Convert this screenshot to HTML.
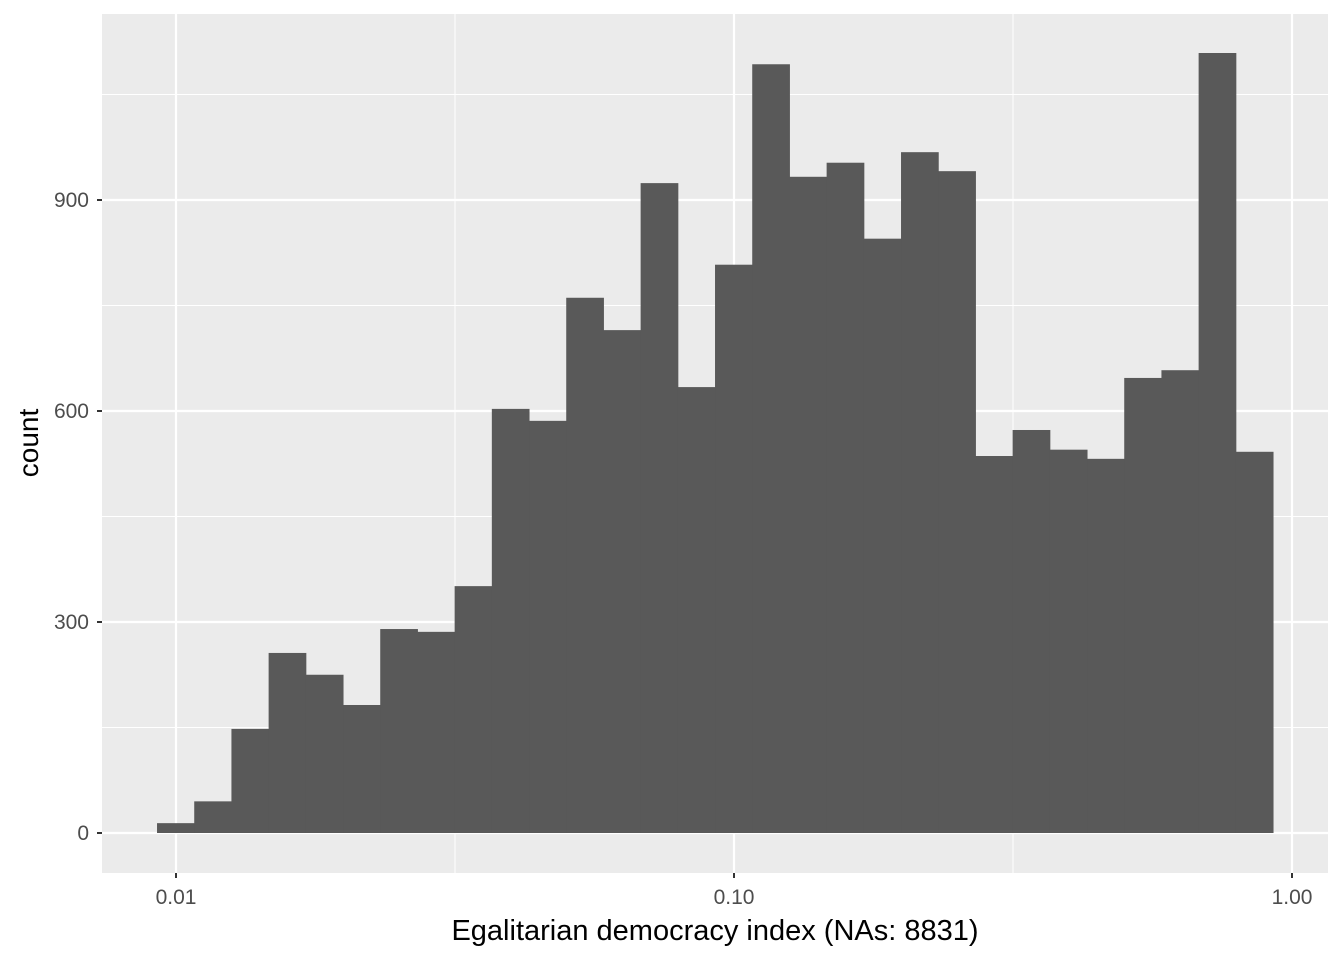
<!DOCTYPE html>
<html><head><meta charset="utf-8"><style>
body{margin:0;background:#fff;}
svg text{font-family:"Liberation Sans",Arial,sans-serif;}
</style></head><body>
<svg id="chart" width="1344" height="960" xmlns="http://www.w3.org/2000/svg">
<rect x="0" y="0" width="1344" height="960" fill="#fff"/>
<rect x="102" y="14" width="1226" height="859" fill="#ebebeb"/>
<g id="grid"></g>
<g id="bars"></g>
<g id="axes"></g>
<text x="715" y="940" font-size="29" fill="#000" text-anchor="middle">Egalitarian democracy index (NAs: 8831)</text>
<text transform="translate(38,443) rotate(-90)" font-size="28" fill="#000" text-anchor="middle">count</text>
</svg>
<script>
const counts=[14,45,148,256,225,182,290,286,351,603,586,761,715,924,634,808,1093,933,953,845,968,941,536,573,545,532,647,658,1109,542];
const binRange=[-2.034,-0.034];
const yTicks=[0,300,600,900];
const yMinor=[150,450,750,1050];
const xTicks=[0.01,0.1,1];
const xTickLabels=["0.01","0.10","1.00"];
const xMinor=[Math.sqrt(10)*0.01,Math.sqrt(10)*0.1];
const NS="http://www.w3.org/2000/svg";
const xs=v=>176+(Math.log10(v)+2)*558;
const xl=l=>176+(l+2)*558;
const ys=v=>833-v*211/300;
function mk(tag,attrs,parent){const e=document.createElementNS(NS,tag);for(const k in attrs)e.setAttribute(k,attrs[k]);parent.appendChild(e);return e;}
const grid=document.getElementById('grid'),bars=document.getElementById('bars'),axes=document.getElementById('axes');
yMinor.forEach(v=>{const l=mk('line',{x1:102,x2:1328,y1:ys(v),y2:ys(v),stroke:'#fff','stroke-width':1},grid);

});
xMinor.forEach(v=>{const l=mk('line',{x1:xs(v),x2:xs(v),y1:14,y2:873,stroke:'#fff','stroke-width':1},grid);

});
yTicks.forEach(v=>{const l=mk('line',{x1:102,x2:1328,y1:ys(v),y2:ys(v),stroke:'#fff','stroke-width':2.2},grid);


const t=mk('line',{x1:97,x2:102,y1:ys(v),y2:ys(v),stroke:'#333','stroke-width':2},axes);


const tx=mk('text',{x:89,y:ys(v)+7,'font-size':21,fill:'#4d4d4d','text-anchor':'end'},axes);tx.textContent=v;

});
xTicks.forEach((v,i)=>{const l=mk('line',{x1:xs(v),x2:xs(v),y1:14,y2:873,stroke:'#fff','stroke-width':2.2},grid);


const t=mk('line',{x1:xs(v),x2:xs(v),y1:873,y2:878,stroke:'#333','stroke-width':2},axes);


const tx=mk('text',{x:xs(v),y:904,'font-size':21,fill:'#4d4d4d','text-anchor':'middle'},axes);tx.textContent=xTickLabels[i];

});
const w=(binRange[1]-binRange[0])/counts.length;
counts.forEach((c,i)=>{const x0=xl(binRange[0]+i*w),x1=xl(binRange[0]+(i+1)*w);
const r=mk('rect',{x:x0,y:ys(c),width:x1-x0+0.5,height:ys(0)-ys(c),fill:'#595959'},bars);

});
</script>
</body></html>
